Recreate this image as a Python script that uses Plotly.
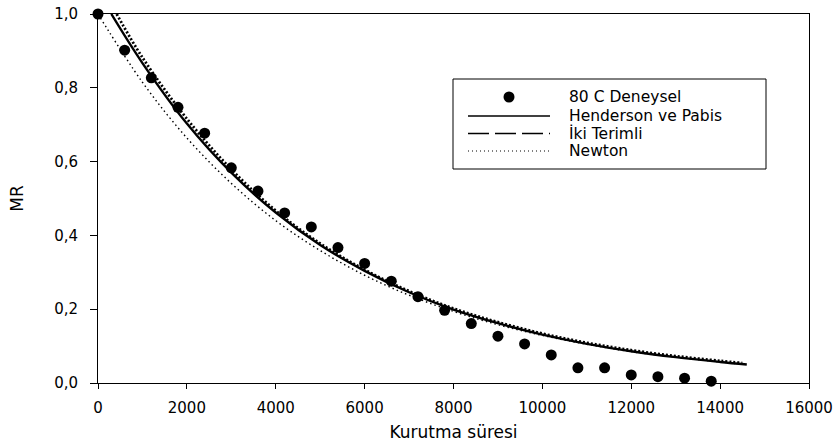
import plotly.graph_objects as go

# Experimental data (80 C Deneysel)
t_exp = [0, 600, 1200, 1800, 2400, 3000, 3600, 4200, 4800, 5400, 6000, 6600,
         7200, 7800, 8400, 9000, 9600, 10200, 10800, 11400, 12000, 12600, 13200, 13800]
mr_exp = [1.0, 0.902, 0.827, 0.747, 0.677, 0.583, 0.520, 0.461, 0.423, 0.367, 0.324, 0.276,
          0.234, 0.197, 0.161, 0.127, 0.106, 0.076, 0.041, 0.041, 0.022, 0.017, 0.013, 0.005]

# Model curves
t_hp = [300, 1000, 2000, 3000, 4000, 5000, 6000, 7000, 8000, 9000, 10000, 11000,
        12000, 13000, 14000, 14600]
mr_hp = [1.0, 0.867, 0.703, 0.570, 0.462, 0.374, 0.304, 0.246, 0.199, 0.162, 0.131, 0.106,
         0.086, 0.070, 0.057, 0.050]

t_ik = [420, 1000, 2000, 3000, 4000, 5000, 6000, 7000, 8000, 9000, 10000, 11000,
        12000, 13000, 14000, 14500]
mr_ik = [1.0, 0.882, 0.716, 0.579, 0.467, 0.378, 0.307, 0.249, 0.202, 0.165, 0.134, 0.109,
         0.089, 0.073, 0.060, 0.054]

t_nw = [0, 1000, 2000, 3000, 4000, 5000, 6000, 7000, 8000, 9000, 10000, 11000,
        12000, 13000, 14000, 14600]
mr_nw = [1.0, 0.815, 0.664, 0.541, 0.440, 0.359, 0.292, 0.238, 0.194, 0.158, 0.129, 0.105,
         0.085, 0.070, 0.057, 0.050]

x_ticks = [0, 2000, 4000, 6000, 8000, 10000, 12000, 14000, 16000]
y_ticks = [0.0, 0.2, 0.4, 0.6, 0.8, 1.0]

legend_names = ["80 C Deneysel", "Henderson ve Pabis", "İki Terimli", "Newton"]

FONT = "DejaVu Sans, Arial, sans-serif"

fig = go.Figure()
fig.add_trace(go.Scatter(x=t_nw, y=mr_nw, mode="lines",
                         line=dict(color="black", width=1.4, dash="1.5px,3px", shape="spline"),
                         showlegend=False, cliponaxis=False))
fig.add_trace(go.Scatter(x=t_ik, y=mr_ik, mode="lines",
                         line=dict(color="black", width=2.8, dash="2px,2px", shape="spline"),
                         showlegend=False, cliponaxis=False))
fig.add_trace(go.Scatter(x=t_hp, y=mr_hp, mode="lines",
                         line=dict(color="black", width=2.4, shape="spline"),
                         showlegend=False, cliponaxis=False))
fig.add_trace(go.Scatter(x=t_exp, y=mr_exp, mode="markers",
                         marker=dict(color="black", size=11),
                         showlegend=False, cliponaxis=False))

# Manual legend (paper coordinates derived from pixel layout)
L, R, T, B = 98, 809, 14, 383
def px(x):
    return (x - L) / (R - L)
def py(y):
    return (B - y) / (B - T)

shapes = [
    dict(type="rect", xref="paper", yref="paper", x0=px(453), x1=px(766), y0=py(169), y1=py(79),
         line=dict(color="black", width=1), fillcolor="white", layer="above"),
    dict(type="circle", xref="paper", yref="paper", x0=px(503.5), x1=px(514.5), y0=py(102.5), y1=py(91.5),
         line=dict(color="black", width=0), fillcolor="black", layer="above"),
    dict(type="line", xref="paper", yref="paper", x0=px(468), x1=px(550), y0=py(116), y1=py(116),
         line=dict(color="black", width=1.3), layer="above"),
    dict(type="line", xref="paper", yref="paper", x0=px(468), x1=px(550), y0=py(133.5), y1=py(133.5),
         line=dict(color="black", width=1.3, dash="21px,6px"), layer="above"),
    dict(type="line", xref="paper", yref="paper", x0=px(468), x1=px(550), y0=py(151), y1=py(151),
         line=dict(color="black", width=1, dash="1px,3px"), layer="above"),
]
rows_y = [97, 115.5, 133.5, 151]
annotations = []
for name, yy in zip(legend_names, rows_y):
    annotations.append(dict(text=name, xref="paper", yref="paper", x=px(567), y=py(yy),
                            xanchor="left", yanchor="middle", showarrow=False,
                            font=dict(family=FONT, size=15.5, color="black")))

fig.update_layout(
    width=840, height=444,
    margin=dict(l=98, r=31, t=14, b=61, autoexpand=False),
    paper_bgcolor="white", plot_bgcolor="white",
    separators=",.",
    font=dict(family=FONT, size=15, color="black"),
    shapes=shapes, annotations=annotations,
    xaxis=dict(range=[0, 16000], tickvals=x_ticks, tickformat="d", showgrid=False, zeroline=False,
               showline=True, linecolor="black", linewidth=1, mirror=True, automargin=False,
               ticks="outside", ticklen=5, tickcolor="black", ticklabelstandoff=6,
               title=dict(text="Kurutma süresi", font=dict(size=17, family=FONT), standoff=10)),
    yaxis=dict(range=[0, 1], tickvals=y_ticks, tickformat=".1f", showgrid=False, zeroline=False,
               showline=True, linecolor="black", linewidth=1, mirror=True, automargin=False,
               ticks="outside", ticklen=7, tickcolor="black", ticklabelstandoff=9,
               title=dict(text="MR", font=dict(size=17, family=FONT), standoff=26)),
)

fig.write_html("out.html")
